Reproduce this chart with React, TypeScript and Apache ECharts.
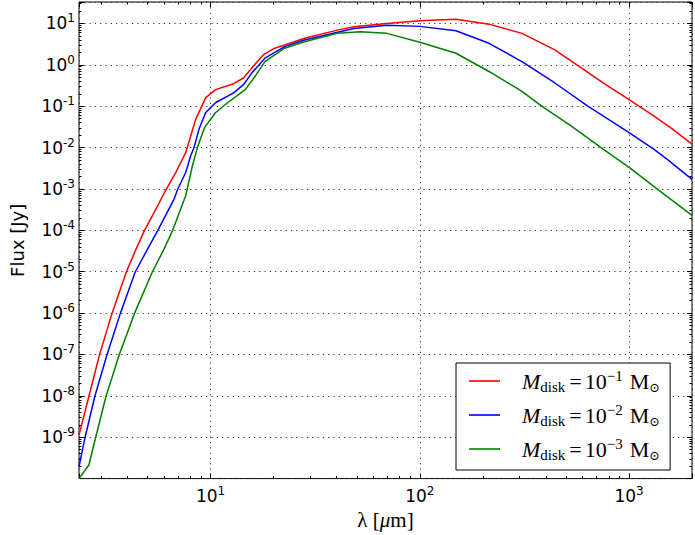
import React, { useEffect, useRef } from 'react';
import * as echarts from 'echarts';

// Axis extents
const X_MIN = 2.353;
const X_MAX = 1998;
const Y_MIN = 1e-10;
const Y_MAX = 33;

// Series names
const seriesNames = ['M_disk = 10^-1 M_sun', 'M_disk = 10^-2 M_sun', 'M_disk = 10^-3 M_sun'];
const massExponents = ['\u22121', '\u22122', '\u22123'];
const seriesColors = ['#ff0000', '#0000ff', '#008000'];

// M_disk = 1e-1 Msun
const wavelengthRed = [2.353, 2.624, 2.948, 3.381, 3.955, 4.423, 4.841, 5.498, 6.131, 6.833, 7.618, 8.044, 8.495, 9.472, 10.56, 12.89, 14.37, 15.74, 17.86, 20.28, 22.61, 28.1, 40.36, 48.41, 69.55, 100, 148.9, 214.1, 307.6, 441.9, 549.3, 635.3, 761, 1000, 1311, 1572, 1998];
const fluxRed = [1.12e-9, 9.8e-9, 9.8e-8, 9.7e-7, 9.7e-6, 3.66e-5, 1.0e-4, 3.33e-4, 9.7e-4, 2.53e-3, 7.63e-3, 1.91e-2, 4.8e-2, 0.159, 0.252, 0.35, 0.48, 0.833, 1.74, 2.52, 3.02, 4.37, 6.9, 8.29, 10.0, 11.6, 12.68, 9.62, 5.76, 2.29, 1.086, 0.661, 0.35, 0.1447, 0.0582, 0.0309, 0.0121];

// M_disk = 1e-2 Msun
const wavelengthBlue = [2.353, 2.512, 2.801, 3.202, 3.704, 4.362, 5.023, 5.6, 6.708, 6.961, 7.618, 8.044, 8.34, 8.806, 9.472, 10.56, 12.89, 14.37, 15.74, 18.19, 22.61, 28.1, 48.41, 69.55, 100, 148.9, 214.1, 307.6, 441.9, 635.3, 1000, 1311, 1517, 1998];
const fluxBlue = [1.94e-10, 9.6e-10, 9.8e-9, 9.8e-8, 9.7e-7, 9.7e-6, 3.66e-5, 1.0e-4, 5.79e-4, 9.7e-4, 2.53e-3, 6.32e-3, 1.0e-2, 2.76e-2, 6.95e-2, 0.121, 0.21, 0.331, 0.632, 1.45, 2.75, 3.98, 7.59, 9.1, 8.5, 6.65, 3.31, 1.2, 0.364, 0.1, 0.023, 9.16e-3, 5.27e-3, 1.7e-3];

// M_disk = 1e-3 Msun
const wavelengthGreen = [2.353, 2.624, 2.822, 3.168, 3.664, 4.328, 5.264, 6.019, 6.594, 7.618, 8.197, 8.654, 9.298, 9.472, 10.56, 11.77, 14.64, 16.32, 18.19, 22.61, 28.1, 40.36, 52.08, 69.55, 100, 148.9, 214.1, 307.6, 382.3, 530, 734.3, 1000, 1360, 1998];
const fluxGreen = [1.0e-10, 2.13e-10, 9.6e-10, 9.8e-9, 9.8e-8, 9.7e-7, 9.7e-6, 3.66e-5, 1.0e-4, 6.95e-4, 3.64e-3, 1.0e-2, 2.76e-2, 3.31e-2, 6.95e-2, 0.11, 0.252, 0.524, 1.2, 2.52, 3.62, 5.76, 6.29, 5.76, 3.5, 1.908, 0.691, 0.229, 0.1, 0.0331, 0.01, 3.33e-3, 1.0e-3, 2.3e-4];

const wavelengths = [wavelengthRed, wavelengthBlue, wavelengthGreen];
const fluxes = [fluxRed, fluxBlue, fluxGreen];

const lxMin = Math.log10(X_MIN);
const lxMax = Math.log10(X_MAX);
const lyMin = Math.log10(Y_MIN);
const lyMax = Math.log10(Y_MAX);

// minor tick positions (2..9 x decade) in log10 space
function minorTicks(lo: number, hi: number): number[] {
  const out: number[] = [];
  for (let d = Math.floor(lo); d <= Math.ceil(hi); d++) {
    for (let k = 2; k <= 9; k++) {
      const v = d + Math.log10(k);
      if (v > lo && v < hi) out.push(v);
    }
  }
  return out;
}

const tickRich = {
  b: { fontFamily: 'DejaVu Sans', fontSize: 17, lineHeight: 22, color: '#000' },
  s: { fontFamily: 'DejaVu Sans', fontSize: 12, lineHeight: 10, verticalAlign: 'top', color: '#000' },
};

const isPow = (e: number) => Math.abs(e - Math.round(e)) < 1e-6;

const gridLine = { show: true, lineStyle: { color: '#333', width: 1, type: [1.2, 4.1] } };

export default function App() {
  const ref = useRef<HTMLDivElement>(null);
  useEffect(() => {
    if (!ref.current) return;
    const chart = echarts.init(ref.current, undefined, { renderer: 'svg' });
    const series = seriesNames.map((name, i) => ({
      type: 'line',
      name,
      xAxisIndex: 0,
      yAxisIndex: 0,
      data: wavelengths[i].map((w, j) => [w, fluxes[i][j]]),
      symbol: 'none',
      showSymbol: false,
      clip: true,
      z: 3 + i,
      lineStyle: { color: seriesColors[i], width: 1.5 },
      itemStyle: { color: seriesColors[i] },
    }));
    const xMinor = minorTicks(lxMin, lxMax);
    const yMinor = minorTicks(lyMin, lyMax);
    const hidden = { show: false };
    const option: any = {
      animation: false,
      backgroundColor: '#fff',
      grid: { left: 72, top: 2, right: 3, bottom: 54, show: true, borderColor: '#000', borderWidth: 1, backgroundColor: 'transparent' },
      xAxis: [
        {
          type: 'log', min: X_MIN, max: X_MAX, position: 'bottom',
          axisLine: { show: false, onZero: false },
          axisTick: { show: true, inside: true, length: 5, lineStyle: { color: '#000' } },
          axisLabel: {
            margin: 6,
            formatter: (v: number) => { const e = Math.log10(v); return isPow(e) ? `{b|10}{s|${Math.round(e)}}` : ''; },
            rich: tickRich,
          },
          splitLine: gridLine,
          name: '{n|\u03bb [}{i|\u03bc}{n|m]}',
          nameLocation: 'middle',
          nameGap: 28,
          nameTextStyle: {
            rich: {
              n: { fontFamily: 'Liberation Serif', fontSize: 21, color: '#000' },
              i: { fontFamily: 'Liberation Serif', fontStyle: 'italic', fontSize: 21, color: '#000' },
            },
          },
        },
        {
          type: 'value', min: lxMin, max: lxMax, position: 'bottom',
          axisLine: { show: false, onZero: false },
          axisTick: { show: true, inside: true, length: 2.5, customValues: xMinor, lineStyle: { color: '#000' } },
          axisLabel: hidden, splitLine: hidden,
        },
        {
          type: 'log', min: X_MIN, max: X_MAX, position: 'top',
          axisLine: { show: false, onZero: false },
          axisTick: { show: true, inside: true, length: 5, lineStyle: { color: '#000' } },
          axisLabel: hidden, splitLine: hidden,
        },
        {
          type: 'value', min: lxMin, max: lxMax, position: 'top',
          axisLine: { show: false, onZero: false },
          axisTick: { show: true, inside: true, length: 2.5, customValues: xMinor, lineStyle: { color: '#000' } },
          axisLabel: hidden, splitLine: hidden,
        },
      ],
      yAxis: [
        {
          type: 'log', min: Y_MIN, max: Y_MAX, position: 'left',
          axisLine: { show: false, onZero: false },
          axisTick: hidden, axisLabel: hidden, splitLine: hidden,
          name: 'Flux [Jy]',
          nameLocation: 'middle',
          nameGap: 53,
          nameTextStyle: { fontFamily: 'DejaVu Sans', fontSize: 18, color: '#000' },
        },
        {
          type: 'value', min: lyMin, max: lyMax, interval: 1, position: 'left',
          axisLine: { show: false, onZero: false },
          axisTick: { show: true, inside: true, length: 5, lineStyle: { color: '#000' } },
          axisLabel: {
            margin: 4,
            showMinLabel: false,
            formatter: (v: number) => (isPow(v) && v > lyMin + 1e-6 ? `{b|10}{s|${Math.round(v)}}` : ''),
            rich: tickRich,
          },
          splitLine: gridLine,
        },
        {
          type: 'value', min: lyMin, max: lyMax, position: 'left',
          axisLine: { show: false, onZero: false },
          axisTick: { show: true, inside: true, length: 2.5, customValues: yMinor, lineStyle: { color: '#000' } },
          axisLabel: hidden, splitLine: hidden,
        },
        {
          type: 'value', min: lyMin, max: lyMax, interval: 1, position: 'right',
          axisLine: { show: false, onZero: false },
          axisTick: { show: true, inside: true, length: 5, lineStyle: { color: '#000' } },
          axisLabel: hidden, splitLine: hidden,
        },
        {
          type: 'value', min: lyMin, max: lyMax, position: 'right',
          axisLine: { show: false, onZero: false },
          axisTick: { show: true, inside: true, length: 2.5, customValues: yMinor, lineStyle: { color: '#000' } },
          axisLabel: hidden, splitLine: hidden,
        },
      ],
      legend: {
        left: 456, top: 363, orient: 'vertical',
        icon: 'rect',
        itemWidth: 31, itemHeight: 1.6, itemGap: 8,
        padding: [5, 10, 8, 13],
        borderColor: '#000', borderWidth: 1, borderRadius: 0, backgroundColor: '#fff',
        selectedMode: false,
        data: seriesNames,
        formatter: (name: string) => {
          const i = seriesNames.indexOf(name);
          return `{it|M}{sub|disk}{eq|=}{num|10}{sup|${massExponents[i]}}{rm|M}{sun|\u2299}`;
        },
        textStyle: {
          color: '#000',
          rich: {
            it: { fontFamily: 'Liberation Serif', fontStyle: 'italic', fontSize: 22, lineHeight: 26, padding: [0, 0, 0, 17], color: '#000' },
            sub: { fontFamily: 'Liberation Serif', fontSize: 15, lineHeight: 14, verticalAlign: 'bottom', color: '#000' },
            eq: { fontFamily: 'Liberation Serif', fontSize: 22, lineHeight: 26, padding: [0, 3, 0, 4], color: '#000' },
            num: { fontFamily: 'Liberation Serif', fontSize: 22, lineHeight: 26, color: '#000' },
            sup: { fontFamily: 'Liberation Serif', fontSize: 15, lineHeight: 16, verticalAlign: 'top', color: '#000' },
            rm: { fontFamily: 'Liberation Serif', fontSize: 22, lineHeight: 26, padding: [0, 0, 0, 7], color: '#000' },
            sun: { fontFamily: 'DejaVu Serif', fontSize: 13, lineHeight: 14, verticalAlign: 'bottom', color: '#000' },
          },
        },
      },
      series,
    };
    chart.setOption(option);
    return () => chart.dispose();
  }, []);
  return <div ref={ref} style={{ position: 'absolute', left: 0, top: 0, width: 695, height: 535 }} />;
}
